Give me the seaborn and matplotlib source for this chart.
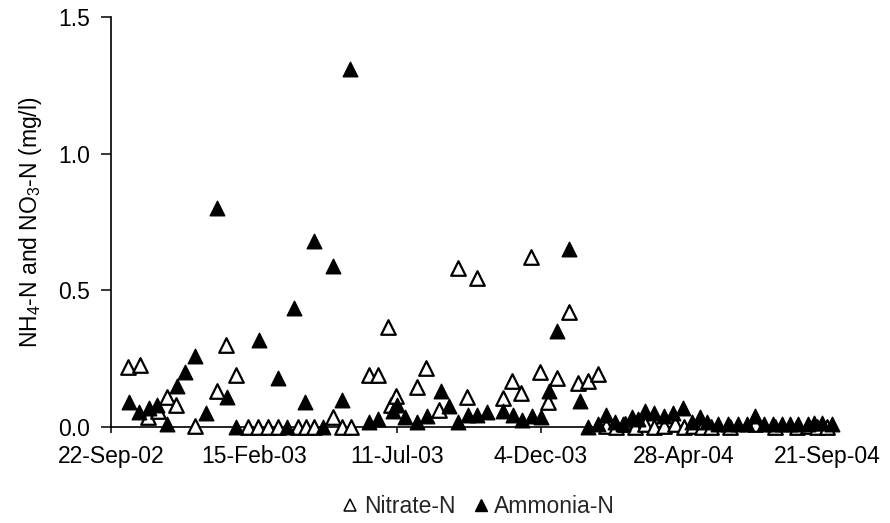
import matplotlib
matplotlib.use("Agg")
import matplotlib.pyplot as plt
import pandas as pd
import seaborn as sns
from matplotlib.lines import Line2D

# Sampling days counted from the first sampling date, and concentrations (mg/l)
start_date = "2002-09-22"

nitrate_day = [17, 30, 38, 48, 57, 66, 86, 108, 117, 127, 140, 150, 160, 170, 191,
               199, 207, 226, 235, 245, 263, 272, 282, 285, 291, 312, 321, 334, 354,
               363, 373, 400, 409, 418, 428, 437, 445, 455, 467, 476, 486, 496,
               505, 515, 524, 534, 544, 554, 564, 575, 584, 593, 602, 612, 631, 656,
               677, 699, 710, 720, 730]
nitrate_val = [0.22, 0.225, 0.035, 0.06, 0.11, 0.08, 0.005, 0.13, 0.30, 0.19, 0.0, 0.0,
               0.0, 0.0, 0.0, 0.0, 0.0, 0.035, 0.0, 0.0, 0.19, 0.19, 0.366, 0.08, 0.115,
               0.145, 0.215, 0.062, 0.58, 0.11, 0.545, 0.105, 0.17, 0.125, 0.62, 0.20,
               0.09, 0.18, 0.42, 0.16, 0.17, 0.195,
               0.005, 0.0, 0.01, 0.0, 0.01, 0.0, 0.005, 0.01, 0.0, 0.005, 0.0, 0.0, 0.0,
               0.01, 0.0, 0.0, 0.005, 0.0, 0.0]

ammonia_day = [18, 29, 39, 47, 57, 67, 75, 86, 97, 108, 118, 127, 151, 170, 179, 187,
               198, 207, 216, 226, 235, 244, 263, 272, 287, 292, 300, 312, 322, 336,
               345, 354, 364, 373, 383, 400, 410, 419, 429, 438, 446, 455, 467, 478,
               486, 496, 505, 514, 522, 531, 537, 544, 554, 564, 573, 583, 592, 600,
               608, 619, 629, 639, 648, 656, 666, 675, 684, 692, 700, 710, 717, 725,
               735]
ammonia_val = [0.09, 0.055, 0.07, 0.08, 0.01, 0.15, 0.20, 0.26, 0.05, 0.80, 0.11, 0.0,
               0.32, 0.18, 0.0, 0.435, 0.09, 0.68, 0.0, 0.59, 0.10, 1.31, 0.02, 0.03,
               0.06, 0.08, 0.035, 0.02, 0.04, 0.13, 0.075, 0.02, 0.045, 0.045, 0.055,
               0.06, 0.045, 0.025, 0.04, 0.035, 0.13, 0.35, 0.65, 0.095,
               0.0, 0.01, 0.045, 0.02, 0.01, 0.035, 0.03, 0.06, 0.05, 0.04, 0.05, 0.07,
               0.02, 0.035, 0.02, 0.01, 0.01, 0.01, 0.01, 0.04, 0.01, 0.01, 0.01, 0.01,
               0.01, 0.01, 0.015, 0.015, 0.01]

tick_labels = ["22-Sep-02", "15-Feb-03", "11-Jul-03", "4-Dec-03", "28-Apr-04", "21-Sep-04"]
tick_step_days = 146
axis_span_days = 738
y_ticks = [0.0, 0.5, 1.0, 1.5]

sns.set_theme(style="ticks")
plt.rcParams["font.family"] = ["Liberation Sans", "DejaVu Sans"]

start = pd.Timestamp(start_date)
nitrate = pd.DataFrame({"date": start + pd.to_timedelta(nitrate_day, unit="D"),
                        "value": nitrate_val})
ammonia = pd.DataFrame({"date": start + pd.to_timedelta(ammonia_day, unit="D"),
                        "value": ammonia_val})

fig = plt.figure(figsize=(8.9, 5.23), dpi=100)
ax = fig.add_axes([0.1247, 0.1836, 0.8135, 0.784])

sns.scatterplot(data=nitrate, x="date", y="value", marker="^", s=110,
                color="white", edgecolor="black", linewidth=1.6, ax=ax,
                zorder=3, clip_on=False, legend=False)
sns.scatterplot(data=ammonia, x="date", y="value", marker="^", s=110,
                color="black", edgecolor="black", linewidth=1.0, ax=ax,
                zorder=4, clip_on=False, legend=False)

ax.set_xlim(start, start + pd.Timedelta(days=axis_span_days))
ax.set_ylim(0, 1.5)
ax.set_xticks([start + pd.Timedelta(days=tick_step_days * k) for k in range(len(tick_labels))])
ax.set_xticklabels(tick_labels)
ax.set_yticks(y_ticks)
ax.set_yticklabels([f"{v:.1f}" for v in y_ticks])

for side in ("top", "right"):
    ax.spines[side].set_visible(False)
for side in ("left", "bottom"):
    ax.spines[side].set_linewidth(1.2)
    ax.spines[side].set_color("black")

ax.tick_params(axis="both", colors="black", labelsize=16.5, width=1.1)
ax.tick_params(axis="y", length=7, pad=8)
ax.tick_params(axis="x", length=4, pad=9)

ax.set_xlabel("")
ax.set_ylabel(r"NH$_\mathregular{4}$-N and NO$_\mathregular{3}$-N (mg/l)",
              fontsize=16.5, color="black", labelpad=10)

handles = [
    Line2D([], [], marker="^", linestyle="", markerfacecolor="white",
           markeredgecolor="black", markeredgewidth=1.1, markersize=8, label="Nitrate-N"),
    Line2D([], [], marker="^", linestyle="", markerfacecolor="black",
           markeredgecolor="black", markersize=8, label="Ammonia-N"),
]
fig.legend(handles=handles, loc="center", bbox_to_anchor=(0.536, 0.032), ncol=2,
           frameon=False, fontsize=16.5, handletextpad=0.1, columnspacing=0.6,
           handlelength=1.0)

fig.savefig("out.png", dpi=100, facecolor="white")
